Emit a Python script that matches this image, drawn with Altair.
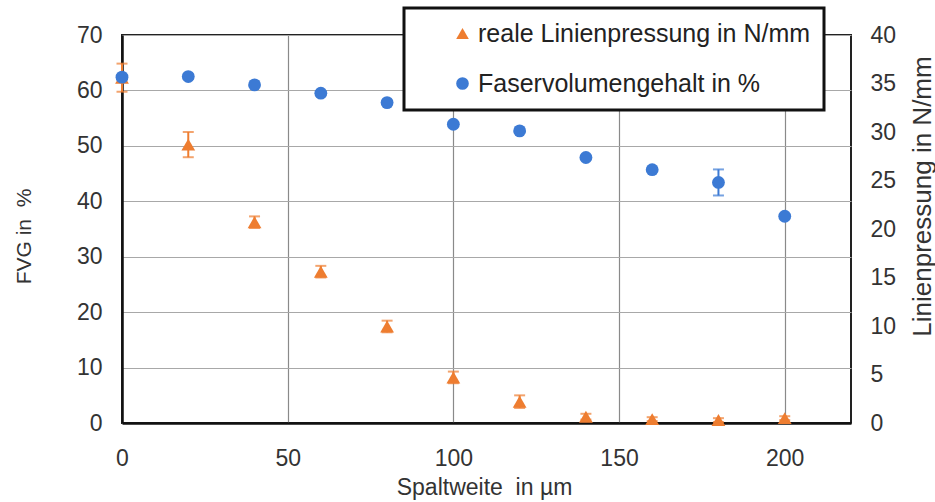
import altair as alt
import pandas as pd

# Spaltweite (gap width) in µm
gap = [0, 20, 40, 60, 80, 100, 120, 140, 160, 180, 200]

# Faservolumengehalt (fibre volume content) in % with standard deviation
fvg = [62.4, 62.5, 61.0, 59.5, 57.8, 53.9, 52.7, 47.9, 45.7, 43.4, 37.3]
fvg_err = [0.4, 0.4, 0.3, 0.3, 0.3, 0.3, 0.3, 0.3, 0.3, 2.35, 0.3]

# real line pressure in N/mm with standard deviation
press = [35.6, 28.7, 20.7, 15.6, 9.95, 4.7, 2.2, 0.65, 0.4, 0.3, 0.5]
press_err = [1.45, 1.3, 0.6, 0.6, 0.6, 0.6, 0.65, 0.3, 0.2, 0.2, 0.2]

series_names = ["reale Linienpressung in N/mm", "Faservolumengehalt in %"]
colors = ["#EE7D30", "#3C7AD4"]
shapes = ["triangle-up", "circle"]

x_ticks = [0, 50, 100, 150, 200]
fvg_ticks = [0, 10, 20, 30, 40, 50, 60, 70]
press_ticks = [0, 5, 10, 15, 20, 25, 30, 35, 40]

x_title = "Spaltweite\u00a0 in µm"
fvg_title = "FVG in\u00a0 %"
press_title = "Linienpressung in N/mm"

FONT = "Liberation Sans"
TXT = "#333333"

df_fvg = pd.DataFrame({
    "gap": gap, "val": fvg,
    "lo": [v - e for v, e in zip(fvg, fvg_err)],
    "hi": [v + e for v, e in zip(fvg, fvg_err)],
    "series": series_names[1],
})
df_press = pd.DataFrame({
    "gap": gap, "val": press,
    "lo": [v - e for v, e in zip(press, press_err)],
    "hi": [v + e for v, e in zip(press, press_err)],
    "series": series_names[0],
})

x_enc = alt.X(
    "gap:Q",
    scale=alt.Scale(domain=[0, 220], nice=False),
    title=x_title,
    axis=alt.Axis(
        values=x_ticks, title=x_title,
        grid=True, gridColor="#8a8a8a", gridWidth=1.2,
        labelPadding=24, labelFlush=False,
        titleX=362, titleY=64,
        titleBaseline="middle", titleAlign="center",
    ),
)

legend_spec = alt.Legend(title=None)

color_enc = alt.Color(
    "series:N",
    scale=alt.Scale(domain=series_names, range=colors),
    legend=legend_spec,
)
shape_enc = alt.Shape(
    "series:N",
    scale=alt.Scale(domain=series_names, range=shapes),
    legend=legend_spec,
)

press_scale = alt.Scale(domain=[0, 40], nice=False, zero=True)
fvg_scale = alt.Scale(domain=[0, 70], nice=False, zero=True)

press_axis = alt.Axis(
    orient="right", values=press_ticks, grid=False,
    title=press_title, labelPadding=19,
    titleAngle=270, titleX=71, titleY=161, titleFontSize=26,
    titleBaseline="middle", titleAlign="center",
    domain=False,
)
fvg_axis = alt.Axis(
    orient="left", values=fvg_ticks, grid=True,
    gridColor="#a8a8a8", gridWidth=1.2,
    title=fvg_title, labelPadding=20,
    titleAngle=270, titleX=-98, titleY=201, titleFontSize=21,
    titleBaseline="middle", titleAlign="center",
)

press_err_layer = alt.Chart(df_press).mark_errorbar(
    ticks=alt.MarkConfig(size=11), thickness=2, color=colors[0]
).encode(
    x=x_enc,
    y=alt.Y("lo:Q", scale=press_scale, title=press_title, axis=press_axis),
    y2="hi:Q",
)
press_pts = alt.Chart(df_press).mark_point(
    filled=True, size=190, opacity=1
).encode(
    x=x_enc,
    y=alt.Y("val:Q", scale=press_scale, title=press_title, axis=press_axis),
    color=color_enc,
    shape=shape_enc,
)

fvg_err_layer = alt.Chart(df_fvg).mark_errorbar(
    ticks=alt.MarkConfig(size=11), thickness=2, color=colors[1]
).encode(
    x=x_enc,
    y=alt.Y("lo:Q", scale=fvg_scale, title=fvg_title, axis=fvg_axis),
    y2="hi:Q",
)
fvg_pts = alt.Chart(df_fvg).mark_point(
    filled=True, size=165, opacity=1
).encode(
    x=x_enc,
    y=alt.Y("val:Q", scale=fvg_scale, title=fvg_title, axis=fvg_axis),
    color=color_enc,
    shape=shape_enc,
)

press_layer = alt.layer(press_err_layer, press_pts)
fvg_layer = alt.layer(fvg_err_layer, fvg_pts)

chart = alt.layer(press_layer, fvg_layer).resolve_scale(
    y="independent"
).properties(
    width=729,
    height=388,
    autosize=alt.AutoSizeParams(type="none"),
    padding={"left": 122, "top": 35, "right": 84, "bottom": 79},
).configure_view(
    stroke="#222222", strokeWidth=2,
).configure_axis(
    labelFont=FONT, labelFontSize=23, labelColor=TXT,
    titleFont=FONT, titleFontSize=23, titleColor=TXT, titleFontWeight="normal",
    ticks=False, tickSize=0,
    domainColor="#111111", domainWidth=2.5,
).configure_legend(
    orient="none", legendX=282, legendY=-27,
    strokeColor="#111111", strokeWidth=3, fillColor="white",
    padding=13, rowPadding=24,
    labelFont=FONT, labelFontSize=25, labelColor="#222222", labelLimit=600,
    symbolSize=160, symbolOffset=33, labelOffset=3,
    symbolStrokeWidth=0,
)

chart.save("out.html", embed_options={"renderer": "svg", "actions": False})
